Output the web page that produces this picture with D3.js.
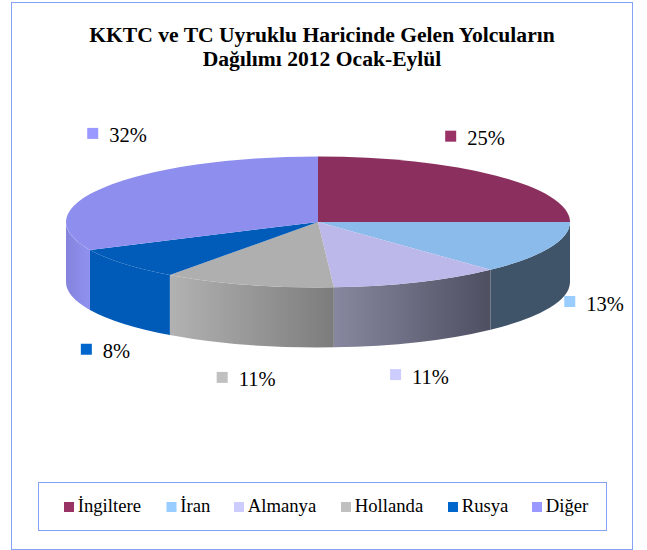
<!DOCTYPE html>
<html>
<head>
<meta charset="utf-8">
<script src="https://cdnjs.cloudflare.com/ajax/libs/d3/7.8.5/d3.min.js"></script>
<style>
html,body{margin:0;padding:0;background:#fff}
svg{display:block}
text{font-family:"Liberation Serif",serif;fill:#000}
</style>
</head>
<body>
<svg id="c" width="647" height="550"></svg>
<script>
const titleLines = ["KKTC ve TC Uyruklu Haricinde Gelen Yolcuların", "Dağılımı 2012 Ocak-Eylül"];
const categories = ["İngiltere", "İran", "Almanya", "Hollanda", "Rusya", "Diğer"];
const values = [25, 13, 11, 11, 8, 32];
const legendColors = ["#993366", "#99ccff", "#ccccff", "#c0c0c0", "#0066cc", "#9999ff"];
const topColors = ["#8b2f5e", "#8abbeb", "#bcb9ea", "#afafaf", "#005cb8", "#8e8eee"];
const wallLeft = ["#5c1f3f", "#3f5369", "#87879f", "#b2b2b2", "#005bb8", "#8484dd"];
const wallRight = ["#5c1f3f", "#3f5369", "#4f4f62", "#7c7c7c", "#005bb8", "#9090f0"];

const W = 647, H = 550;
const cx = 318, cy = 222, rx = 252, ry = 65.5, depth = 60;
const ratio = ry / rx, depthS = depth / ratio;
const svg = d3.select("#c");
const defs = svg.append("defs");

// frame
svg.append("rect").attr("x", 11.5).attr("y", 2.5).attr("width", 621).attr("height", 547)
  .attr("fill", "#fff").attr("stroke", "#85a1f2").attr("stroke-width", 1);

// title
svg.append("g").selectAll("text").data(titleLines).join("text")
  .attr("x", 322).attr("y", (d, i) => 42 + i * 24)
  .attr("text-anchor", "middle").attr("font-size", 21.6).attr("font-weight", "bold")
  .text(d => d);

const pie = d3.pie().sort(null).value(d => d)(values);
const g = svg.append("g").attr("transform", `translate(${cx},${cy}) scale(1,${ratio})`);

const sx = d3.scaleLinear().domain([-1, 1]).range([-rx, rx]);

// walls: only the front half (0.5π..1.5π from the top) is visible
function wallPath(a0, a1) {
  const p = d3.path();
  const s = a0 - Math.PI / 2, e = a1 - Math.PI / 2;
  p.arc(0, 0, rx, s, e, false);
  p.lineTo(rx * Math.cos(e), rx * Math.sin(e) + depthS);
  p.arc(0, depthS, rx, e, s, true);
  p.closePath();
  return p.toString();
}
pie.forEach((d, i) => {
  const a0 = Math.max(d.startAngle, Math.PI / 2), a1 = Math.min(d.endAngle, 1.5 * Math.PI);
  if (a1 <= a0) return;
  const x0 = sx(Math.sin(a0)), x1 = sx(Math.sin(a1));
  const id = "w" + i;
  const gr = defs.append("linearGradient").attr("id", id)
    .attr("gradientUnits", "userSpaceOnUse")
    .attr("x1", Math.min(x0, x1)).attr("x2", Math.max(x0, x1)).attr("y1", 0).attr("y2", 0);
  gr.append("stop").attr("offset", 0).attr("stop-color", wallLeft[i]);
  gr.append("stop").attr("offset", 1).attr("stop-color", wallRight[i]);
  g.append("path").attr("d", wallPath(a0, a1)).attr("fill", `url(#${id})`);
});

// top
const arc = d3.arc().innerRadius(0).outerRadius(rx);
g.selectAll("path.top").data(pie).join("path").attr("class", "top")
  .attr("d", arc).attr("fill", (d, i) => topColors[i]);

// data labels
const labelOffsets = [[-51, -45], [15, 48], [-28, 87], [-31, 87], [-43, 80], [-18, -59]];
const lab = svg.append("g").selectAll("g").data(pie).join("g")
  .attr("transform", (d, i) => {
    const m = (d.startAngle + d.endAngle) / 2;
    return `translate(${cx + rx * Math.sin(m) + labelOffsets[i][0]},${cy - ry * Math.cos(m) + labelOffsets[i][1]})`;
  });
lab.append("rect").attr("width", 11).attr("height", 11).attr("fill", (d, i) => legendColors[i]);
lab.append("text").attr("x", 22).attr("y", 14.5).attr("font-size", 20.5).text(d => d.value + "%");

// legend
svg.append("rect").attr("x", 38.5).attr("y", 482.5).attr("width", 568).attr("height", 48)
  .attr("fill", "#fff").attr("stroke", "#85a1f2").attr("stroke-width", 1);
const legendX = [64, 166.5, 234, 341, 448, 532];
const leg = svg.append("g").selectAll("g").data(categories).join("g")
  .attr("transform", (d, i) => `translate(${legendX[i]},502)`);
leg.append("rect").attr("width", 10).attr("height", 10).attr("fill", (d, i) => legendColors[i]);
leg.append("text").attr("x", 13.7).attr("y", 10).attr("font-size", 18.7).text(d => d);
</script>
</body>
</html>
